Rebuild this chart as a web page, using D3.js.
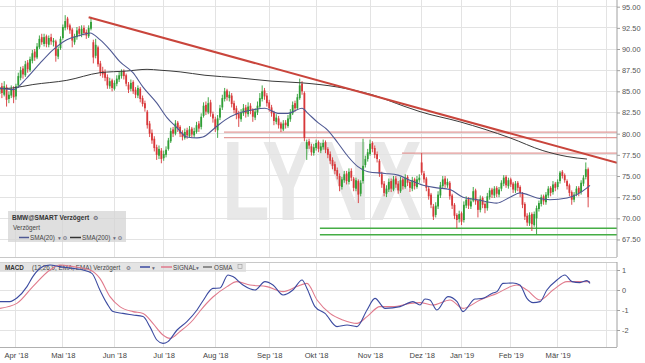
<!DOCTYPE html>
<html>
<head>
<meta charset="utf-8">
<script src="https://cdn.jsdelivr.net/npm/d3@7"></script>
<style>
  body { margin: 0; background: #fff; }
  svg text { font-family: "Liberation Sans", Arial, sans-serif; }
</style>
</head>
<body>
<svg id="chart" width="645" height="363"></svg>
<script>
// trading day index of the first candle (0 = first trading day of Apr '18)
const firstDay = -7;

const opens = [
  84.7,85.6,84.6,85.5,84.1,84.5,85.3,84.4,85.7,86.6,
  87.7,86.9,88.4,87.5,88.6,89.7,89.0,90.2,91.4,90.6,
  91.5,90.5,91.4,90.8,90.9,89.1,90.1,91.3,92.5,93.6,
  92.8,92.3,90.8,91.4,92.4,91.7,92.5,92.0,91.5,92.4,
  90.8,89.2,90.2,88.3,87.4,87.3,86.7,85.6,86.3,85.3,
  85.9,86.4,86.8,87.4,86.9,85.8,85.3,86.1,85.2,84.5,
  85.3,84.2,83.6,82.6,81.2,80.1,79.4,78.4,77.4,78.0,
  77.1,77.5,78.2,79.1,80.5,80.0,81.3,80.8,80.1,79.5,
  80.4,79.7,80.6,79.8,80.2,81.2,80.8,82.1,83.4,82.5,
  83.7,82.3,81.7,80.4,81.9,83.1,84.1,85.1,84.2,84.5,
  83.6,83.0,82.4,81.7,82.4,83.1,82.3,83.3,82.8,81.9,
  82.5,83.2,84.1,85.1,84.5,83.7,83.1,82.5,81.4,81.8,
  81.2,80.5,81.3,80.9,81.7,82.4,83.6,83.0,84.2,85.9,
  84.8,78.2,79.1,78.5,77.7,78.3,79.0,78.0,78.4,79.0,
  78.2,77.6,76.9,76.4,75.7,75.0,73.7,74.5,75.3,74.3,
  75.6,74.7,73.5,74.4,72.9,74.4,76.3,77.0,77.6,78.9,
  78.3,77.6,76.8,75.2,74.1,72.9,73.4,74.4,73.4,74.7,
  74.1,73.2,74.6,73.7,74.9,74.3,73.5,74.6,73.7,74.5,
  76.6,75.3,74.7,73.5,72.8,71.4,70.4,71.4,72.7,73.8,
  74.7,73.9,74.2,72.7,71.6,70.4,69.9,70.6,69.8,71.5,
  72.3,71.4,72.1,73.3,72.1,71.0,72.4,71.7,71.2,72.5,
  73.4,72.7,73.6,72.8,73.5,74.1,74.9,73.8,74.6,74.1,
  73.3,74.2,73.7,72.9,71.7,70.3,69.4,70.5,69.2,70.0,
  71.1,71.7,72.6,71.9,72.7,73.6,73.1,74.1,73.7,74.4,
  75.5,75.1,74.4,73.9,73.1,72.2,72.9,73.6,73.1,74.1,
  74.9,75.8
];
const highs = [
  86.6,86.0,86.2,85.8,85.0,85.7,85.6,85.9,87.2,87.9,
  88.0,88.6,88.7,89.1,89.9,90.0,90.7,91.6,91.8,91.8,
  91.7,91.6,91.8,91.3,91.1,90.3,91.5,92.9,94.0,93.8,
  93.0,92.5,91.8,92.6,92.7,92.8,92.8,92.3,92.8,93.8,
  91.1,91.2,90.4,88.6,87.9,87.6,87.0,86.6,86.5,86.3,
  86.9,87.3,87.6,87.6,87.1,86.1,86.4,86.3,85.5,85.7,
  85.5,84.5,83.9,82.8,81.5,80.5,79.7,78.7,78.6,78.3,
  78.0,78.5,79.5,80.7,80.8,81.6,81.5,81.0,80.4,80.6,
  80.7,80.9,80.8,80.7,81.4,81.5,82.4,83.7,83.8,84.3,
  84.0,82.6,82.0,82.2,83.4,84.6,85.4,85.3,85.0,84.8,
  83.9,83.3,82.7,82.9,83.5,83.4,83.7,83.6,83.0,83.0,
  83.8,84.8,85.7,85.4,84.8,84.0,83.4,82.7,82.3,82.1,
  81.4,81.6,81.6,82.2,82.9,83.8,83.9,84.7,86.5,86.2,
  85.0,79.3,79.4,78.8,78.8,79.3,79.2,78.9,79.3,79.2,
  78.4,77.9,77.2,76.7,76.0,75.3,74.9,75.6,75.6,75.9,
  75.9,74.9,74.8,74.6,74.5,79.4,77.4,78.2,79.3,79.1,
  78.6,77.9,77.0,75.5,74.4,73.9,74.7,74.7,75.0,75.0,
  74.4,74.9,74.8,75.2,75.1,74.5,74.9,74.8,75.0,75.2,
  77.7,75.6,74.9,73.8,73.0,71.7,71.9,73.2,74.3,75.0,
  75.0,74.7,74.4,72.9,71.8,70.6,70.9,70.8,72.0,72.6,
  72.5,72.4,73.7,73.5,72.3,72.7,72.6,71.9,73.0,73.6,
  73.6,73.8,73.8,73.7,74.5,75.1,75.1,74.8,74.8,74.3,
  74.4,74.4,73.9,73.1,71.9,70.6,70.7,70.7,70.8,71.5,
  72.1,72.8,72.8,73.1,73.8,73.8,74.4,74.3,74.6,75.6,
  75.7,75.3,74.6,74.1,73.3,73.1,73.8,73.8,74.5,75.1,
  76.6,76.0
];
const lows = [
  84.3,84.2,84.4,83.2,83.6,84.2,83.6,84.0,85.4,86.3,
  86.5,86.7,87.2,87.3,88.3,88.6,88.8,90.0,90.5,90.3,
  90.2,90.2,90.5,90.3,88.5,88.8,89.9,91.1,92.2,92.3,
  91.8,90.2,90.5,91.1,91.5,91.4,91.6,91.2,91.3,92.2,
  88.3,88.9,87.9,86.8,86.6,86.2,85.3,85.3,85.0,85.1,
  85.6,86.1,86.5,86.4,85.6,84.8,85.0,84.7,84.2,84.2,
  83.7,83.2,82.6,80.6,79.6,78.8,77.9,76.9,77.0,76.5,
  76.8,77.2,78.0,78.9,79.6,79.8,80.2,79.6,79.2,79.3,
  79.4,79.5,79.5,79.5,80.0,80.2,80.5,81.9,82.2,82.3,
  82.0,81.3,80.2,79.5,81.6,82.8,83.8,83.9,83.8,83.1,
  82.4,81.7,80.8,81.4,82.1,81.9,82.0,82.3,81.4,81.6,
  82.2,83.0,83.8,84.0,83.2,82.6,82.0,81.0,81.1,80.6,
  80.2,80.3,80.6,80.7,81.4,82.2,82.6,82.8,84.0,84.6,
  79.1,76.9,78.2,77.4,77.4,78.0,77.8,77.7,78.1,77.7,
  77.1,76.4,75.8,75.2,74.6,73.2,73.4,74.2,74.0,74.0,
  74.4,73.2,73.2,71.8,72.6,74.1,76.0,76.7,77.4,77.8,
  77.1,76.6,74.9,73.6,72.6,72.5,73.1,73.1,73.2,73.6,
  72.9,73.0,73.4,73.5,73.8,73.1,73.2,73.4,73.5,74.2,
  75.1,74.2,73.2,72.2,71.2,69.8,70.1,71.1,72.4,73.5,
  73.6,73.6,72.2,71.1,69.9,68.8,69.5,69.2,69.5,71.2,
  71.1,71.1,71.9,71.6,70.1,70.7,71.2,70.6,70.9,72.2,
  72.4,72.4,72.5,72.5,73.2,73.8,73.6,73.5,73.7,73.0,
  73.0,73.2,72.5,71.2,69.8,69.1,69.1,68.5,69.0,68.1,
  70.8,71.4,71.6,71.6,72.4,72.6,72.8,73.2,73.4,74.1,
  74.7,74.2,73.4,72.6,71.6,71.9,72.6,72.6,72.8,73.8,
  74.6,71.3
];
const closes = [
  85.5,84.8,85.6,84.0,84.6,85.2,84.3,85.6,86.8,87.5,
  87.0,88.2,87.6,88.8,89.5,89.0,90.3,91.2,90.8,91.4,
  90.6,91.3,90.9,91.0,89.2,90.0,91.2,92.6,93.3,92.6,
  92.2,91.0,91.5,92.2,91.8,92.4,91.9,91.6,92.5,93.2,
  89.0,90.5,88.2,87.2,87.0,86.6,85.7,86.2,85.4,86.0,
  86.5,86.9,87.3,86.8,85.9,85.2,86.0,85.0,84.6,85.4,
  84.1,83.5,83.0,81.0,80.0,79.2,78.3,77.5,78.2,77.0,
  77.6,78.1,79.2,80.3,80.0,81.2,80.6,80.0,79.6,80.2,
  79.8,80.5,79.9,80.3,81.0,80.6,82.0,83.3,82.6,83.6,
  82.4,81.8,80.6,81.8,83.0,84.2,85.0,84.3,84.6,83.5,
  82.8,82.2,81.8,82.5,83.0,82.4,83.2,82.7,82.0,82.6,
  83.3,84.2,85.0,84.4,83.6,83.0,82.4,81.5,81.9,81.0,
  80.6,81.2,81.0,81.8,82.5,83.4,83.0,84.3,85.7,85.0,
  79.5,79.0,78.6,77.8,78.4,78.9,78.2,78.5,78.9,78.1,
  77.5,76.8,76.2,75.6,75.0,73.8,74.6,75.2,74.4,75.5,
  74.8,73.6,74.5,72.8,74.2,76.2,77.0,77.8,78.8,78.2,
  77.5,77.0,75.3,74.0,73.0,73.5,74.3,73.5,74.6,74.0,
  73.3,74.5,73.8,74.8,74.2,73.6,74.5,73.8,74.6,74.8,
  75.4,74.6,73.6,72.6,71.6,70.2,71.5,72.8,73.9,74.6,
  74.0,74.3,72.6,71.5,70.3,69.8,70.5,69.6,71.6,72.2,
  71.5,72.0,73.2,72.0,71.0,72.3,71.6,71.2,72.6,73.3,
  72.8,73.5,72.9,73.4,74.2,74.8,73.9,74.5,74.0,73.4,
  74.1,73.6,73.0,71.6,70.2,69.5,70.4,69.3,70.5,71.2,
  71.8,72.5,72.0,72.8,73.5,73.0,74.0,73.6,74.3,75.4,
  75.0,74.5,73.8,73.0,72.2,72.8,73.5,73.0,74.2,74.8,
  75.8,72.5
];

// [trading day, value]
const sma20 = [
  [-6.8,85.4],[-1.3,85.2],[4.7,86.6],[10.2,88.3],[15.8,89.9],[21.7,91.1],[27.3,91.6],[31.6,91.9],
  [35.8,91.1],[40.1,89.9],[44.3,88.5],[49.9,87.2],[54.2,85.5],[60.1,83.6],[64.4,81.9],[68.7,80.7],
  [72.9,79.6],[77.2,79.5],[79.7,79.6],[84.9,80.7],[89.1,81.6],[94.7,82.4],[100.6,82.8],[106.2,83.0],
  [111.7,82.4],[116,82.4],[122,83.0],[124.5,82.4],[128.8,81.3],[133,80.4],[137.3,78.9],[141.6,77.3],
  [145.8,76.1],[150.1,75.5],[157.4,75.3],[162.9,75.1],[168,74.5],[173.6,73.9],[179.5,73.6],[185,73.4],
  [190.6,72.5],[196.6,72.2],[205,71.8],[210.7,72.5],[215,73.0],[222.2,72.4],[227.7,72.2],[235,72.4],
  [239.2,72.8],[243.5,73.6],[244.8,73.9]
];
const sma200 = [
  [-6.8,85.3],[-1.3,85.4],[7.2,85.8],[21.7,86.3],[35.8,87.2],[47.3,87.4],[55.9,87.6],[61.4,87.5],
  [70,87.3],[80.6,86.9],[94.7,86.6],[109.2,86.2],[122,86.0],[137.3,85.5],[151.8,84.6],[165.9,83.2],
  [172.3,82.6],[189.3,81.4],[210.7,79.5],[224.7,78.0],[235,77.3],[243.5,77.0]
];
const macd = [
  [-6.8,-0.58],[-2.6,-0.58],[0.4,-0.4],[4.7,0.17],[7.2,0.67],[11.5,1.17],[14.5,1.25],[18.8,1.17],
  [24.3,1.08],[28.6,1.0],[32.4,0.83],[35.8,0.0],[38.8,-0.67],[41.4,-1.08],[45.6,-1.17],[49.9,-1.25],
  [54.2,-1.33],[57.1,-1.83],[60.1,-2.5],[62.7,-2.67],[64.8,-2.58],[68.7,-2.0],[72.9,-1.58],[77.2,-1.0],
  [79.7,-0.55],[84,0.08],[87,0.1],[90.4,0.75],[92.5,0.67],[96.8,0.25],[101.9,0.0],[106.2,0.42],
  [109.6,0.25],[113.9,-0.25],[118.1,0.0],[122,0.5],[124.1,0.08],[127.5,-0.83],[131.8,-1.17],[136.9,-1.83],
  [141.2,-1.75],[145.4,-1.83],[149.7,-1.0],[153.1,-0.42],[157.4,-0.92],[163.8,-0.83],[169.3,-0.58],[172.3,-0.75],
  [174.4,-0.45],[176.5,-0.5],[179.5,-1.0],[184.2,-0.33],[188.1,-0.58],[190.6,-1.08],[195.7,-0.45],[199.1,-0.42],
  [203,-0.17],[205.1,-0.08],[207.7,0.33],[211.9,0.35],[214.9,0.25],[217.9,-0.42],[220.5,-0.63],[223.5,-0.58],
  [226.4,0.0],[230.7,0.5],[234.1,0.75],[237.1,0.42],[240.5,0.37],[243.5,0.47],[244.8,0.33]
];
const signal = [
  [-6.8,-0.92],[0.4,-0.67],[7.2,0.17],[14.5,1.0],[18.8,1.25],[24.3,1.17],[31.6,1.0],[35.8,0.58],
  [40.1,-0.33],[44.3,-0.83],[49.9,-1.08],[54.2,-1.17],[58.4,-1.67],[62.7,-2.25],[65.7,-2.42],[69.9,-2.08],
  [75.5,-1.5],[78.5,-1.05],[84,-0.35],[90,0.17],[94.2,0.42],[99.8,0.25],[107,0.17],[113.9,-0.08],
  [119.8,0.17],[124.1,0.33],[128.4,-0.5],[133.9,-1.17],[139.4,-1.5],[145.4,-1.67],[149.7,-1.33],[155.2,-0.83],
  [160.8,-0.83],[168,-0.67],[172.3,-0.63],[177.8,-0.75],[185.1,-0.5],[190.6,-0.92],[197.9,-0.5],[205.1,-0.17],
  [213.6,0.25],[217.9,0.0],[223.5,-0.5],[229,0.0],[235,0.42],[240.5,0.42],[244.8,0.42]
];

const monthLabels = ["Apr '18","Mai '18","Jun '18","Jul '18","Aug '18","Sep '18","Okt '18","Nov '18","Dez '18","Jan '19","Feb '19","Mär '19"];
const monthStarts = [0,20,42,63,85,108,128,151,173,190,211,231,252];
const priceTicks = [95,92.5,90,87.5,85,82.5,80,77.5,75,72.5,70,67.5];
const macdTicks = [1,0,-1,-2];

// drawn lines: [day, price]
const trendLine = [[31,93.75],[256.3,76.55]];
const redLevels = [[88.7,80.17],[88.7,79.53],[164.6,77.69]];
const greenLevels = [[129.6,68.84],[129.6,68.05]];

const svg = d3.select("#chart");
const plotRight = 617;
const mainP = {top: 0, bottom: 257};
const macdP = {top: 262, bottom: 347};
const up = "#2f9e35", down = "#d8383a";

const candles = opens.map((o, i) => ({day: i + firstDay, o, h: highs[i], l: lows[i], c: closes[i]}));

const x = d3.scaleLinear().domain([-6.8, 256.3]).range([0, plotRight]);
const y = d3.scaleLinear().domain([65.43, 95.79]).range([mainP.bottom, mainP.top]);
const yM = d3.scaleLinear().domain([-2.85, 1.4]).range([macdP.bottom, macdP.top]);

const defs = svg.append("defs");
defs.append("clipPath").attr("id", "clipMain")
  .append("rect").attr("x", 0).attr("y", mainP.top).attr("width", plotRight).attr("height", mainP.bottom - mainP.top);
defs.append("clipPath").attr("id", "clipMacd")
  .append("rect").attr("x", 0).attr("y", macdP.top).attr("width", plotRight).attr("height", macdP.bottom - macdP.top);

// grid
const grid = svg.append("g").attr("stroke", "#e3e3e3").attr("shape-rendering", "crispEdges");
grid.selectAll(".hg").data(priceTicks).join("line")
  .attr("x1", 0).attr("x2", plotRight).attr("y1", d => y(d)).attr("y2", d => y(d));
grid.selectAll(".hm").data(macdTicks).join("line")
  .attr("x1", 0).attr("x2", plotRight).attr("y1", d => yM(d)).attr("y2", d => yM(d));
grid.selectAll(".vg").data(monthStarts).join("line")
  .attr("x1", d => x(d)).attr("x2", d => x(d)).attr("y1", mainP.top).attr("y2", mainP.bottom);
grid.selectAll(".vm").data(monthStarts).join("line")
  .attr("x1", d => x(d)).attr("x2", d => x(d)).attr("y1", macdP.top).attr("y2", macdP.bottom);

// watermark
svg.append("text")
  .attr("x", 222).attr("y", 220)
  .attr("textLength", 200).attr("lengthAdjust", "spacingAndGlyphs")
  .style("font-size", "114px").style("font-weight", "bold")
  .attr("fill", "#e4e4e4").attr("opacity", 0.85)
  .text("LYNX");

// panel borders
const borders = svg.append("g").attr("fill", "none").attr("shape-rendering", "crispEdges");
borders.append("line").attr("x1", 0).attr("x2", plotRight).attr("y1", mainP.bottom).attr("y2", mainP.bottom).attr("stroke", "#c8c8c8");
borders.append("line").attr("x1", 0).attr("x2", plotRight).attr("y1", macdP.top).attr("y2", macdP.top).attr("stroke", "#c8c8c8");
borders.append("line").attr("x1", 0).attr("x2", plotRight).attr("y1", macdP.bottom).attr("y2", macdP.bottom).attr("stroke", "#b0b0b0");

const main = svg.append("g").attr("clip-path", "url(#clipMain)");

// horizontal support / resistance
main.selectAll(".rl").data(redLevels).join("line")
  .attr("x1", d => x(d[0])).attr("x2", plotRight)
  .attr("y1", d => y(d[1])).attr("y2", d => y(d[1]))
  .attr("stroke", "#e29a98").attr("stroke-width", 1.3);
main.selectAll(".gl").data(greenLevels).join("line")
  .attr("x1", d => x(d[0])).attr("x2", plotRight)
  .attr("y1", d => y(d[1])).attr("y2", d => y(d[1]))
  .attr("stroke", "#45ad45").attr("stroke-width", 1.5);

// candles
main.selectAll(".wick").data(candles).join("line")
  .attr("x1", d => x(d.day)).attr("x2", d => x(d.day))
  .attr("y1", d => y(d.h)).attr("y2", d => y(d.l))
  .attr("stroke", d => d.c >= d.o ? up : down).attr("stroke-width", 0.9);
main.selectAll(".body").data(candles).join("rect")
  .attr("x", d => x(d.day) - 0.9).attr("width", 1.8)
  .attr("y", d => y(Math.max(d.o, d.c)))
  .attr("height", d => Math.max(0.8, Math.abs(y(d.o) - y(d.c))))
  .attr("fill", d => d.c >= d.o ? up : down);

const line = d3.line().x(d => x(d[0])).curve(d3.curveMonotoneX);

main.append("path").datum(sma200)
  .attr("d", line.y(d => y(d[1])))
  .attr("fill", "none").attr("stroke", "#3a3a3a").attr("stroke-width", 1);
main.append("path").datum(sma20)
  .attr("d", line.y(d => y(d[1])))
  .attr("fill", "none").attr("stroke", "#4f5993").attr("stroke-width", 1.1);

main.append("line")
  .attr("x1", x(trendLine[0][0])).attr("y1", y(trendLine[0][1]))
  .attr("x2", x(trendLine[1][0])).attr("y2", y(trendLine[1][1]))
  .attr("stroke", "#c9453c").attr("stroke-width", 2);

// price axis
const yAxis = svg.append("g")
  .attr("transform", `translate(${plotRight},0)`)
  .call(d3.axisRight(y).tickValues(priceTicks).tickFormat(d3.format(".2f")).tickSize(3).tickPadding(2));
yAxis.select(".domain").attr("stroke", "#a0a0a0").attr("d", `M0,${mainP.top}V${mainP.bottom}`);
yAxis.selectAll(".tick line").attr("stroke", "#a0a0a0");
yAxis.selectAll("text").attr("fill", "#555").style("font-size", "7.4px");

// legend box
const lg = svg.append("g");
lg.append("rect").attr("x", 8).attr("y", 211).attr("width", 118).attr("height", 31)
  .attr("fill", "#d4d4d4").attr("opacity", 0.75);
lg.append("text").attr("x", 12).attr("y", 220).style("font-size", "6.5px").style("font-weight", "bold")
  .attr("fill", "#333").text("BMW@SMART Verzögert");
lg.append("text").attr("x", 93).attr("y", 220).style("font-size", "6px").style("font-family", "DejaVu Sans")
  .attr("fill", "#556").text("⚙");
lg.append("text").attr("x", 13).attr("y", 230).style("font-size", "6.3px").attr("fill", "#444").text("Verzögert");
lg.append("line").attr("x1", 19).attr("x2", 29).attr("y1", 237.5).attr("y2", 237.5).attr("stroke", "#4f5993").attr("stroke-width", 1.5);
lg.append("text").attr("x", 30).attr("y", 240).style("font-size", "6.3px").attr("fill", "#444").text("SMA(20)");
lg.append("text").attr("x", 58).attr("y", 240).style("font-size", "5.5px").style("font-family", "DejaVu Sans").attr("fill", "#667").text("▾  ⚙");
lg.append("line").attr("x1", 70).attr("x2", 81).attr("y1", 237.5).attr("y2", 237.5).attr("stroke", "#333").attr("stroke-width", 1.5);
lg.append("text").attr("x", 82).attr("y", 240).style("font-size", "6.3px").attr("fill", "#444").text("SMA(200)");
lg.append("text").attr("x", 113).attr("y", 240).style("font-size", "5.5px").style("font-family", "DejaVu Sans").attr("fill", "#667").text("▾  ⚙");

// MACD header box
const mh = svg.append("g");
mh.append("rect").attr("x", 0).attr("y", 262).attr("width", 246).attr("height", 10)
  .attr("fill", "#d9d9d9").attr("opacity", 0.7);
mh.append("text").attr("x", 5).attr("y", 269.5).style("font-size", "6.3px").style("font-weight", "bold").attr("fill", "#333").text("MACD");
mh.append("text").attr("x", 32).attr("y", 269.5).style("font-size", "6.3px").attr("fill", "#444").text("(12,26,9, EMA, EMA) Verzögert");
mh.append("text").attr("x", 126).attr("y", 269.5).style("font-size", "5.5px").style("font-family", "DejaVu Sans").attr("fill", "#556").text("⚙");
mh.append("line").attr("x1", 140).attr("x2", 150).attr("y1", 267).attr("y2", 267).attr("stroke", "#3b4aa0").attr("stroke-width", 1.5);
mh.append("text").attr("x", 152).attr("y", 269.5).style("font-size", "5.5px").style("font-family", "DejaVu Sans").attr("fill", "#667").text("▾");
mh.append("line").attr("x1", 161).attr("x2", 172).attr("y1", 267).attr("y2", 267).attr("stroke", "#e07a8c").attr("stroke-width", 1.5);
mh.append("text").attr("x", 173).attr("y", 269.5).style("font-size", "6.3px").attr("fill", "#444").text("SIGNAL");
mh.append("text").attr("x", 196).attr("y", 269.5).style("font-size", "5.5px").style("font-family", "DejaVu Sans").attr("fill", "#667").text("▾");
mh.append("line").attr("x1", 203).attr("x2", 212).attr("y1", 267).attr("y2", 267).attr("stroke", "#555").attr("stroke-width", 1.2);
mh.append("text").attr("x", 214).attr("y", 269.5).style("font-size", "6.3px").attr("fill", "#444").text("OSMA");
mh.append("rect").attr("x", 238).attr("y", 264.5).attr("width", 4).attr("height", 4).attr("fill", "none").attr("stroke", "#999").attr("stroke-width", 0.6);

// MACD lines
const macdG = svg.append("g").attr("clip-path", "url(#clipMacd)");
macdG.append("path").datum(signal)
  .attr("d", line.y(d => yM(d[1])))
  .attr("fill", "none").attr("stroke", "#e07a8c").attr("stroke-width", 1.1);
macdG.append("path").datum(macd)
  .attr("d", line.y(d => yM(d[1])))
  .attr("fill", "none").attr("stroke", "#3b4aa0").attr("stroke-width", 1.1);

const mAxis = svg.append("g")
  .attr("transform", `translate(${plotRight},0)`)
  .call(d3.axisRight(yM).tickValues(macdTicks).tickFormat(d => String(d)).tickSize(3).tickPadding(2));
mAxis.select(".domain").attr("stroke", "#a0a0a0").attr("d", `M0,${macdP.top}V${macdP.bottom}`);
mAxis.selectAll(".tick line").attr("stroke", "#a0a0a0");
mAxis.selectAll("text").attr("fill", "#555").style("font-size", "7.4px");

// month axis
const xAxis = svg.append("g")
  .attr("transform", `translate(0,${macdP.bottom})`)
  .call(d3.axisBottom(x).tickValues(monthStarts.slice(0, monthLabels.length))
    .tickFormat((d, i) => monthLabels[i]).tickSize(0).tickPadding(6));
xAxis.select(".domain").remove();
xAxis.selectAll("text").attr("fill", "#444").style("font-size", "7.6px");
</script>
</body>
</html>
